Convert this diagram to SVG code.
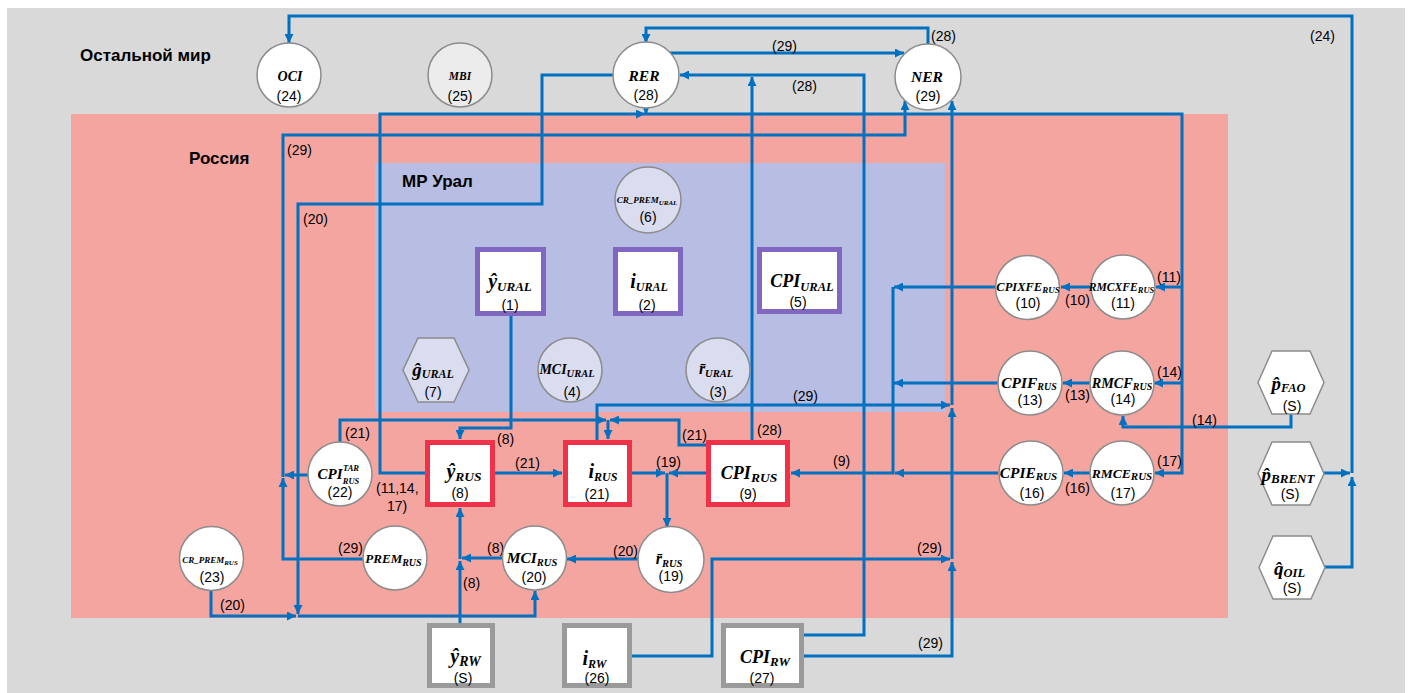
<svg xmlns="http://www.w3.org/2000/svg" width="1411" height="693" viewBox="0 0 1411 693">
  <defs>
    <marker id="ah" viewBox="0 0 10 10" refX="10" refY="5" markerWidth="9" markerHeight="9" markerUnits="userSpaceOnUse" orient="auto">
      <path d="M0,0 L10,5 L0,10 z" fill="#0070c0"/>
    </marker>
    <style>
      .reg-world { fill: #d9d9d9; }
      .reg-rus { fill: #f5a59f; }
      .reg-ural { fill: #b7bde3; }
      .ttl { font-family: "Liberation Sans", Arial, sans-serif; font-size: 17px; font-weight: bold; fill: #000; }
      .num { font-family: "Liberation Sans", Arial, sans-serif; font-size: 14px; fill: #000; }
      .c { text-anchor: middle; }
      .nm { font-family: "Liberation Serif", "Times New Roman", serif; font-weight: bold; font-style: italic; fill: #000; text-anchor: middle; }
      .circ { fill: #ffffff; stroke: #8c8c8c; stroke-width: 1.5; }
      .circ-l { fill: #dadcf0; stroke: #8c8c8c; stroke-width: 1.5; }
      .circ-g { fill: #ececec; stroke: #8c8c8c; stroke-width: 1.5; }
      .hex { fill: #ffffff; stroke: #8c8c8c; stroke-width: 1.5; }
      .hex-l { fill: #dadcf0; stroke: #8c8c8c; stroke-width: 1.5; }
      .box-ural { fill: #ffffff; stroke: #8067c0; stroke-width: 5; }
      .box-rus { fill: #ffffff; stroke: #ee3249; stroke-width: 5; }
      .box-rw { fill: #ffffff; stroke: #9a9a9a; stroke-width: 5; }
      .ln { fill: none; stroke: #0070c0; stroke-width: 3; }
      .ar { marker-end: url(#ah); }
    </style>
  </defs>

  <!-- regions -->
  <rect x="0" y="0" width="1411" height="693" fill="#ffffff"/>
  <rect class="reg-world" x="7" y="8" width="1398" height="685"/>
  <rect class="reg-rus" x="71" y="114" width="1157" height="504"/>
  <rect class="reg-ural" x="375" y="163" width="570" height="249"/>
  <text class="ttl" x="80" y="61">Остальной мир</text>
  <text class="ttl" x="189" y="164">Россия</text>
  <text class="ttl" x="402" y="187">МР Урал</text>

  <!-- connectors -->
  <g id="connectors">
    <!-- (24) oil and Brent to OCI -->
    <path class="ln ar" d="M1325,567 H1352 V477"/>
    <path class="ln ar" d="M1324,473 H1350"/>
    <path class="ln ar" d="M1352,473 V16 H289 V43"/>
    <!-- (28) NER to RER -->
    <path class="ln ar" d="M928,44 V28 H646 V43"/>
    <!-- (29) RER to NER -->
    <path class="ln ar" d="M669,53 H904"/>
    <!-- (28) CPI_RW and CPI_RUS to RER -->
    <path class="ln ar" d="M804,635 H864 V75 H680"/>
    <path class="ln ar" d="M752,440 V77"/>
    <!-- (20) RER and CR_PREM_RUS to MCI_RUS -->
    <path class="ln ar" d="M613,75 H542 V204 H298 V614"/>
    <path class="ln ar" d="M211,590 V616 H296"/>
    <path class="ln ar" d="M298,616 H535 V591"/>
    <!-- (11,14,17) y_RUS and RER to RMC equations -->
    <path class="ln ar" d="M425,473 H380 V114 H645"/>
    <path class="ln ar" d="M646,107 V114"/>
    <path class="ln ar" d="M645,114 H1182 V473 H1155"/>
    <path class="ln ar" d="M1182,287 H1156"/>
    <path class="ln ar" d="M1182,383 H1154"/>
    <!-- (29) PREM_RUS and CPI_TAR to NER -->
    <path class="ln ar" d="M363,559 H283 V478"/>
    <path class="ln ar" d="M308,475 H285"/>
    <path class="ln ar" d="M283,477 V135 H905 V101"/>
    <!-- (21) CPI_TAR and CPI_RUS to i_RUS -->
    <path class="ln ar" d="M340,442 V420 H606"/>
    <path class="ln ar" d="M706,445 H679 V420 H610"/>
    <path class="ln ar" d="M608,420 V439"/>
    <!-- (8) y_URAL to y_RUS -->
    <path class="ln ar" d="M511,316 V428 H460 V439"/>
    <!-- (21) y_RUS to i_RUS -->
    <path class="ln ar" d="M495,473 H562"/>
    <!-- (19) i_RUS and CPI_RUS to r_RUS -->
    <path class="ln ar" d="M632,473 H665"/>
    <path class="ln ar" d="M706,473 H669"/>
    <path class="ln ar" d="M667,473 V527"/>
    <!-- (20) r_RUS to MCI_RUS -->
    <path class="ln ar" d="M638,559 H567"/>
    <!-- (8) MCI_RUS and y_RW to y_RUS -->
    <path class="ln ar" d="M503,558 H462"/>
    <path class="ln ar" d="M460,623 V561"/>
    <path class="ln ar" d="M460,559 V508"/>
    <!-- (29) i_RUS, i_RW, CPI_RW to NER -->
    <path class="ln ar" d="M597,440 V405 H950"/>
    <path class="ln ar" d="M804,656 H952 V562"/>
    <path class="ln ar" d="M632,656 H712 V559 H950"/>
    <path class="ln ar" d="M952,559 V408"/>
    <path class="ln ar" d="M952,405 V101"/>
    <!-- (9) consumer price components to CPI_RUS -->
    <path class="ln ar" d="M995,287 H894"/>
    <path class="ln ar" d="M998,383 H894"/>
    <path class="ln ar" d="M998,473 H895"/>
    <path class="ln ar" d="M893,287 V473 H791"/>
    <!-- (10), (13), (16) -->
    <path class="ln ar" d="M1091,287 H1061"/>
    <path class="ln ar" d="M1091,383 H1063"/>
    <path class="ln ar" d="M1090,473 H1064"/>
    <!-- (14) FAO prices to RMCF -->
    <path class="ln ar" d="M1291,414 V427 H1123 V416"/>

    <!-- equation labels -->
    <text class="num" x="1310" y="41">(24)</text>
    <text class="num" x="931" y="41">(28)</text>
    <text class="num" x="772" y="51">(29)</text>
    <text class="num" x="792" y="91">(28)</text>
    <text class="num" x="287" y="155">(29)</text>
    <text class="num" x="303" y="224">(20)</text>
    <text class="num" x="345" y="438">(21)</text>
    <text class="num" x="497" y="444">(8)</text>
    <text class="num" x="376" y="493">(11,14,</text>
    <text class="num" x="387" y="511">17)</text>
    <text class="num" x="515" y="468">(21)</text>
    <text class="num" x="656" y="467">(19)</text>
    <text class="num" x="682" y="440">(21)</text>
    <text class="num" x="757" y="435">(28)</text>
    <text class="num" x="793" y="401">(29)</text>
    <text class="num" x="833" y="466">(9)</text>
    <text class="num" x="1065" y="305">(10)</text>
    <text class="num" x="1065" y="400">(13)</text>
    <text class="num" x="1065" y="493">(16)</text>
    <text class="num" x="1157" y="282">(11)</text>
    <text class="num" x="1157" y="377">(14)</text>
    <text class="num" x="1157" y="466">(17)</text>
    <text class="num" x="1192" y="425">(14)</text>
    <text class="num" x="338" y="553">(29)</text>
    <text class="num" x="487" y="553">(8)</text>
    <text class="num" x="613" y="556">(20)</text>
    <text class="num" x="463" y="588">(8)</text>
    <text class="num" x="220" y="610">(20)</text>
    <text class="num" x="917" y="553">(29)</text>
    <text class="num" x="918" y="648">(29)</text>
  </g>

  <!-- rest of world -->
  <g id="n24">
    <circle class="circ" cx="289" cy="75" r="32"/>
    <text class="nm" x="290" y="81" font-size="14">OCI</text>
    <text class="num c" x="289" y="101">(24)</text>
  </g>
  <g id="n25">
    <circle class="circ-g" cx="460" cy="75" r="32"/>
    <text class="nm" x="460" y="80" font-size="11.5">MBI</text>
    <text class="num c" x="460" y="101">(25)</text>
  </g>
  <g id="n28">
    <circle class="circ" cx="646" cy="75" r="33"/>
    <text class="nm" x="644" y="81" font-size="15.5">RER</text>
    <text class="num c" x="646" y="100">(28)</text>
  </g>
  <g id="n29">
    <circle class="circ" cx="928" cy="77" r="33"/>
    <text class="nm" x="927" y="82" font-size="15.5">NER</text>
    <text class="num c" x="928" y="101">(29)</text>
  </g>

  <!-- Ural region -->
  <g id="n6">
    <circle class="circ-l" cx="648" cy="200" r="33"/>
    <text class="nm" x="647" y="203" font-size="9">CR_PREM<tspan font-size="7" dy="2">URAL</tspan></text>
    <text class="num c" x="648" y="222">(6)</text>
  </g>
  <g id="n1">
    <rect class="box-ural" x="477.5" y="249.5" width="66" height="64"/>
    <text class="nm" x="510" y="288"><tspan font-size="20">ŷ</tspan><tspan font-size="13" dy="3">URAL</tspan></text>
    <text class="num c" x="510" y="310">(1)</text>
  </g>
  <g id="n2">
    <rect class="box-ural" x="615.5" y="249.5" width="65" height="64"/>
    <text class="nm" x="649" y="288"><tspan font-size="20">i</tspan><tspan font-size="12" dy="3">URAL</tspan></text>
    <text class="num c" x="647" y="310">(2)</text>
  </g>
  <g id="n5">
    <rect class="box-ural" x="759.5" y="249.5" width="80" height="62"/>
    <text class="nm" x="802" y="287"><tspan font-size="18">CPI</tspan><tspan font-size="12.5" dy="4">URAL</tspan></text>
    <text class="num c" x="798" y="307">(5)</text>
  </g>
  <g id="n7">
    <polygon class="hex-l" points="403,370 418,338 454,338 469,370 454,402 418,402"/>
    <text class="nm" x="433" y="376"><tspan font-size="19">ĝ</tspan><tspan font-size="12" dy="2">URAL</tspan></text>
    <text class="num c" x="433" y="397">(7)</text>
  </g>
  <g id="n4">
    <circle class="circ-l" cx="570" cy="370" r="32"/>
    <text class="nm" x="567" y="374"><tspan font-size="14">MCI</tspan><tspan font-size="10.5" dy="3">URAL</tspan></text>
    <text class="num c" x="572" y="397">(4)</text>
  </g>
  <g id="n3">
    <circle class="circ-l" cx="718" cy="370" r="32"/>
    <text class="nm" x="716" y="374"><tspan font-size="16">r&#x304;</tspan><tspan font-size="10.5" dy="3">URAL</tspan></text>
    <text class="num c" x="718" y="397">(3)</text>
  </g>

  <!-- Russia -->
  <g id="n22">
    <circle class="circ" cx="340" cy="474" r="32"/>
    <text class="nm" x="330" y="479" font-size="15">CPI</text>
    <text class="nm" x="351" y="471" font-size="8.5">TAR</text>
    <text class="nm" x="351" y="484" font-size="8.5">RUS</text>
    <text class="num c" x="340" y="497">(22)</text>
  </g>
  <g id="n8">
    <rect class="box-rus" x="427.5" y="442.5" width="65" height="62"/>
    <text class="nm" x="464" y="478"><tspan font-size="20">ŷ</tspan><tspan font-size="13.5" dy="3">RUS</tspan></text>
    <text class="num c" x="460" y="498">(8)</text>
  </g>
  <g id="n21">
    <rect class="box-rus" x="565.5" y="442.5" width="64" height="62"/>
    <text class="nm" x="603" y="478"><tspan font-size="20">i</tspan><tspan font-size="12" dy="3">RUS</tspan></text>
    <text class="num c" x="597" y="499">(21)</text>
  </g>
  <g id="n9">
    <rect class="box-rus" x="708.5" y="442.5" width="79" height="62"/>
    <text class="nm" x="749" y="479"><tspan font-size="18">CPI</tspan><tspan font-size="13.5" dy="3">RUS</tspan></text>
    <text class="num c" x="748" y="499">(9)</text>
  </g>
  <g id="n23">
    <circle class="circ" cx="211.5" cy="558.5" r="32"/>
    <text class="nm" x="210" y="563" font-size="9">CR_PREM<tspan font-size="7" dy="2">RUS</tspan></text>
    <text class="num c" x="212" y="582">(23)</text>
  </g>
  <g id="n-prem">
    <circle class="circ" cx="395" cy="558" r="32"/>
    <text class="nm" x="393.5" y="563"><tspan font-size="13">PREM</tspan><tspan font-size="10" dy="3">RUS</tspan></text>
  </g>
  <g id="n20">
    <circle class="circ" cx="534.5" cy="558" r="32"/>
    <text class="nm" x="532" y="563"><tspan font-size="15.5">MCI</tspan><tspan font-size="10.5" dy="3">RUS</tspan></text>
    <text class="num c" x="534" y="582">(20)</text>
  </g>
  <g id="n19">
    <circle class="circ" cx="671" cy="559.5" r="33"/>
    <text class="nm" x="669" y="564"><tspan font-size="16">r&#x304;</tspan><tspan font-size="10.5" dy="3">RUS</tspan></text>
    <text class="num c" x="671" y="581">(19)</text>
  </g>
  <g id="n10">
    <circle class="circ" cx="1027.5" cy="287.5" r="32"/>
    <text class="nm" x="1028" y="291"><tspan font-size="12.5">CPIXFE</tspan><tspan font-size="9" dy="2">RUS</tspan></text>
    <text class="num c" x="1028" y="308">(10)</text>
  </g>
  <g id="n11">
    <circle class="circ" cx="1123" cy="287" r="32"/>
    <text class="nm" x="1121.5" y="291"><tspan font-size="11.6">RMCXFE</tspan><tspan font-size="8.5" dy="2">RUS</tspan></text>
    <text class="num c" x="1123" y="308">(11)</text>
  </g>
  <g id="n13">
    <circle class="circ" cx="1030" cy="383" r="32"/>
    <text class="nm" x="1029" y="388"><tspan font-size="15.4">CPIF</tspan><tspan font-size="10" dy="2">RUS</tspan></text>
    <text class="num c" x="1030" y="405">(13)</text>
  </g>
  <g id="n14">
    <circle class="circ" cx="1122" cy="383" r="32"/>
    <text class="nm" x="1122" y="388"><tspan font-size="14.2">RMCF</tspan><tspan font-size="10" dy="2">RUS</tspan></text>
    <text class="num c" x="1123" y="404">(14)</text>
  </g>
  <g id="n16">
    <circle class="circ" cx="1031" cy="473" r="32"/>
    <text class="nm" x="1028.5" y="478"><tspan font-size="15.4">CPIE</tspan><tspan font-size="11" dy="2">RUS</tspan></text>
    <text class="num c" x="1032" y="498">(16)</text>
  </g>
  <g id="n17">
    <circle class="circ" cx="1122" cy="473" r="32"/>
    <text class="nm" x="1122" y="478"><tspan font-size="13.5">RMCE</tspan><tspan font-size="11" dy="2">RUS</tspan></text>
    <text class="num c" x="1123" y="498">(17)</text>
  </g>

  <!-- external drivers -->
  <g id="n-fao">
    <polygon class="hex" points="1258,382.5 1272,351 1310,351 1324,382.5 1310,414 1272,414"/>
    <text class="nm" x="1288.5" y="390"><tspan font-size="19">p&#x302;</tspan><tspan font-size="12.5" dy="2">FAO</tspan></text>
    <text class="num c" x="1292" y="411">(S)</text>
  </g>
  <g id="n-brent">
    <polygon class="hex" points="1258,473.5 1272,442 1310,442 1324,473.5 1310,505 1272,505"/>
    <text class="nm" x="1288" y="481"><tspan font-size="19">p&#x302;</tspan><tspan font-size="13" dy="2">BRENT</tspan></text>
    <text class="num c" x="1290" y="499">(S)</text>
  </g>
  <g id="n-oil">
    <polygon class="hex" points="1259,567.5 1273,536 1311,536 1325,567.5 1311,599 1273,599"/>
    <text class="nm" x="1289.5" y="575"><tspan font-size="19">q&#x302;</tspan><tspan font-size="12.5" dy="2">OIL</tspan></text>
    <text class="num c" x="1292" y="593">(S)</text>
  </g>
  <g id="n-yrw">
    <rect class="box-rw" x="429.5" y="625.5" width="63" height="60"/>
    <text class="nm" x="465.5" y="663"><tspan font-size="20">ŷ</tspan><tspan font-size="14" dy="3">RW</tspan></text>
    <text class="num c" x="463" y="683">(S)</text>
  </g>
  <g id="n26">
    <rect class="box-rw" x="564.5" y="625.5" width="65" height="60"/>
    <text class="nm" x="594.5" y="665"><tspan font-size="20">i</tspan><tspan font-size="12" dy="3">RW</tspan></text>
    <text class="num c" x="597" y="683">(26)</text>
  </g>
  <g id="n27">
    <rect class="box-rw" x="723.5" y="625.5" width="78" height="60"/>
    <text class="nm" x="765" y="663"><tspan font-size="18">CPI</tspan><tspan font-size="13" dy="3">RW</tspan></text>
    <text class="num c" x="762" y="683">(27)</text>
  </g>
</svg>
